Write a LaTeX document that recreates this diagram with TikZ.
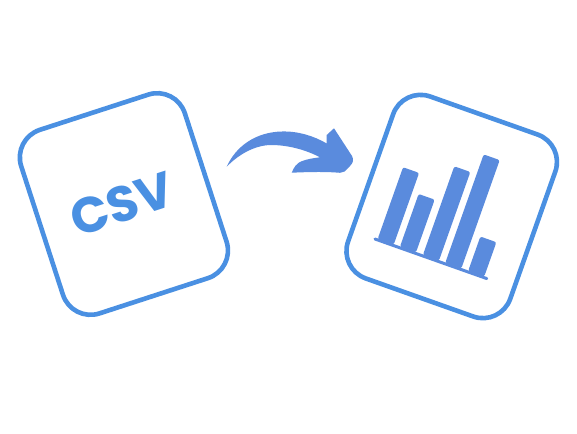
\documentclass[tikz,border=0pt]{standalone}
\usepackage{fontspec}
\setmainfont{Poppins}
\definecolor{boxblue}{HTML}{4A90E2}
\definecolor{iconblue}{HTML}{5A8BDD}
\tikzset{
  card/.style={draw=boxblue,line width=4.6pt,fill=white,rectangle,rounded corners=29pt,minimum width=172pt,minimum height=193pt,inner sep=0pt},
  chartbar/.style={fill=iconblue,rounded corners=2pt},
  filetext/.style={text=boxblue,font=\bfseries\fontsize{50}{50}\selectfont,inner sep=0pt}
}
\begin{document}
\begin{tikzpicture}[x=1pt,y=-1pt]
\useasboundingbox (0,0) rectangle (577,433);
\fill[white] (0,0) rectangle (577,433);
\node[card,rotate=18] (csvcard) at (123.9,204) {};
\node[filetext,rotate=18] (csvtext) at (122,204) {CSV};
\node[card,rotate=-19.5] (chartcard) at (451.7,206.5) {};
\begin{scope}[shift={(375,239)},rotate=-19.5]
  \foreach \cx/\ch in {11pt/77pt,34.6pt/57pt,59pt/95pt,82.7pt/116pt,107pt/37.5pt}{
    \fill[chartbar] (\cx-8.5pt,1pt) rectangle (\cx+8.5pt,\ch);
  }
  \draw[iconblue,line width=3pt,line cap=round] (0pt,0pt) -- (118.6pt,0pt);
\end{scope}
\fill[iconblue,line join=round]
  (226.7,166.7)
  .. controls (236,146) and (256,132) .. (282,131.5)
  .. controls (298,131) and (314,136) .. (326.7,143.5)
  -- (326.7,135) -- (334,128.3) -- (352,156)
  .. controls (354,160) and (353,163) .. (350,166)
  -- (344.5,171.5) .. controls (343,172.7) and (342,172.9) .. (340,172.8)
  .. controls (325,171.5) and (308,172) .. (291.7,172.7)
  .. controls (294,167) and (297,163) .. (301,161.5)
  .. controls (307,159) and (314,158) .. (320,157.3)
  .. controls (306,150) and (290,145.5) .. (273,145)
  .. controls (257,144.5) and (240,153) .. (226.7,166.7) -- cycle;
\end{tikzpicture}
\end{document}
